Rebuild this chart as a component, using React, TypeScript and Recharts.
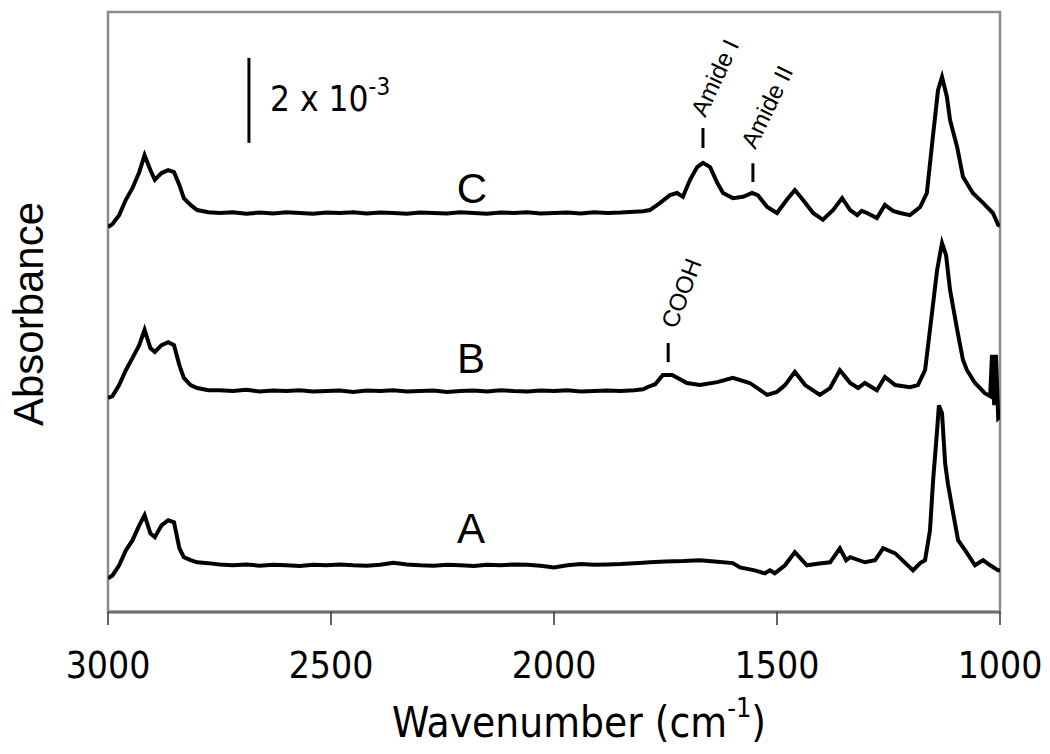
import React from "react";
import {
  LineChart,
  Line,
  XAxis,
  YAxis,
  ReferenceArea,
  ReferenceLine,
  ReferenceDot,
  Label,
} from "recharts";

// FTIR spectra, absorbance in units of 1e-3 above each trace's own baseline
const cWn = [3000,2990,2975,2960,2945,2930,2918,2905,2895,2880, 2865,2852,2840,2830,2815,2800,2775,2750, 2720,2690,2660,2630,2600,2570,2540,2510,2480,2450, 2420,2390,2360,2330,2300,2270,2240,2210,2180,2150, 2120,2090,2060,2030,2000, 1970,1940,1910,1880,1850,1820,1800, 1785,1762,1740,1724,1711,1695,1679,1666,1650,1634, 1621,1599,1576,1556,1543,1522,1500,1478,1460,1442, 1419,1397,1374,1354,1336,1320,1310,1298,1276,1258, 1240,1224,1202,1179,1164,1152,1139,1130,1119,1112, 1096,1083,1061,1038,1016,1004,1000];
const cAbs = [-0.33,-0.26,-0.05,0.31,0.59,0.96,1.36,1.01,0.78,0.94, 1.01,0.96,0.66,0.35,0.19,0.07,0.02,0, 0.02,-0.02,0.01,-0.01,0.02,0,-0.02,0.01,0,0.02, -0.01,0.01,0,-0.02,0.01,0,-0.01,0.02,0,-0.02, 0.01,0,0.02,-0.01,0, 0.01,-0.01,0.02,0,0.01,0.03,0.04, 0.07,0.24,0.42,0.47,0.38,0.78,1.08,1.18,1.08,0.71, 0.47,0.35,0.38,0.47,0.42,0.14,0,0.31,0.54,0.31, 0,-0.16,0.07,0.35,0.07,-0.05,0.05,0,-0.12,0.19, 0.05,0,-0.05,0.14,0.47,1.65,2.89,3.2,2.73,2.19, 1.55,0.85,0.47,0.24,0,-0.28,-0.3];

const bWn = [3000,2990,2975,2960,2945,2930,2918,2905,2895,2880, 2865,2852,2840,2830,2815,2800,2775,2750, 2720,2690,2660,2630,2600,2570,2540,2510,2480,2450, 2420,2390,2360,2330,2300,2270,2240,2210,2180,2150, 2120,2090,2060,2030,2000, 1970,1940,1910,1880,1850,1820,1800, 1791,1773,1756,1735,1702,1673,1634,1599,1561,1522, 1500,1482,1460,1437,1404,1381,1359,1345,1336,1318, 1303,1276,1258,1235,1202,1184,1168,1157,1141,1130, 1121,1112,1096,1083,1074,1056,1034,1022,1018,1013, 1009,1004,1000];
const bAbs = [-0.16,-0.12,0.14,0.49,0.78,1.08,1.44,1.01,0.92,1.08, 1.15,1.08,0.61,0.31,0.14,0.07,0.02,0.02, 0,0.03,-0.01,0.01,0,0.02,-0.01,0,0.01,-0.02, 0.01,0,0.02,-0.01,0,0.01,-0.02,0,0.01,-0.01, 0.02,0,-0.01,0.01,0, 0.02,-0.01,0,0.01,0,0.02,0.04, 0.09,0.16,0.38,0.38,0.19,0.14,0.21,0.31,0.19,-0.09, -0.02,0.14,0.45,0.14,-0.09,0.07,0.49,0.31,0.19,0.07, 0.19,0.02,0.33,0.14,0.09,0.14,0.49,1.44,2.85,3.48, 3.2,2.38,1.44,0.73,0.49,0.19,-0.05,-0.12,0.85,-0.33, 0.85,-0.64,-0.6];

const aWn = [3000,2990,2975,2960,2945,2930,2918,2905,2895,2880, 2865,2852,2840,2830,2815,2800,2775,2750, 2720,2690,2660,2630,2600,2570,2540,2510,2480,2450, 2420,2390,2360,2330,2300,2270,2240,2210,2180,2150, 2120,2090,2060,2030,2000, 1970,1940,1910,1880,1850,1820,1800, 1785,1750,1710,1673,1640,1599,1583,1550,1527,1516, 1505,1482,1460,1433,1405,1381,1359,1345,1336,1303, 1280,1262,1235,1202,1195,1179,1168,1157,1150,1141, 1137,1130,1123,1117,1105,1094,1078,1056,1038,1022, 1004,1000];
const aAbs = [-0.31,-0.24,0,0.35,0.59,0.94,1.18,0.75,0.66,0.94, 1.06,1.01,0.4,0.19,0.12,0.07,0.05,0.02, 0,0.02,-0.01,0.01,0,-0.02,0.01,0,0.02,0, -0.01,0.01,0.06,0.02,0,-0.01,0.01,0,-0.02,0.01, 0,0.02,0.01,-0.01,-0.05, 0,0.03,0.01,0.02,0.03,0.05,0.06, 0.07,0.09,0.1,0.12,0.09,0.05,-0.05,-0.12,-0.19,-0.12, -0.19,0,0.31,0,0.04,0.07,0.4,0.12,0.19,0.07, 0.12,0.4,0.28,-0.05,-0.12,0.05,0.12,0.82,2.0,3.18, 3.76,3.58,2.4,1.93,1.22,0.59,0.35,0,0.12,0, -0.12,-0.12];

const xTicks = [3000, 2500, 2000, 1500, 1000];

// vertical offsets of the stacked traces (1e-3 units)
const OFFSET_A = 1.1;
const OFFSET_B = 5.2;
const OFFSET_C = 9.39;
const Y_MAX = 14.12;

const FONT_V = '"DejaVu Sans Condensed", "DejaVu Sans", Verdana, sans-serif';
const FONT_A = '"Liberation Sans", Arial, sans-serif';

const build = (wn: number[], vals: number[], offset: number) =>
  wn.map((w, i) => ({ wn: w, y: vals[i] + offset }));

const dataA = build(aWn, aAbs, OFFSET_A);
const dataB = build(bWn, bAbs, OFFSET_B);
const dataC = build(cWn, cAbs, OFFSET_C);

const WnTick = (props: any) => {
  const { x, y, payload } = props;
  return (
    <text x={x} y={y + 53} textAnchor="middle" fontFamily={FONT_V} fontSize={37} fill="#000">
      {payload.value}
    </text>
  );
};

const TextAt = (props: any) => {
  const { viewBox, txt, size = 42, rot = 0, anchor = "middle", font = FONT_A, shiftY = 0 } = props;
  if (!viewBox) return null;
  const { x, y } = viewBox;
  return (
    <g transform={`translate(${x},${y}) rotate(${rot})`}>
      <text x={0} y={shiftY} textAnchor={anchor} fontFamily={font} fontSize={size} fill="#000">
        {txt}
      </text>
    </g>
  );
};

const ScaleText = (props: any) => {
  const { viewBox } = props;
  if (!viewBox) return null;
  return (
    <text x={viewBox.x} y={viewBox.y} fontFamily={FONT_V} fontSize={35} fill="#000">
      2 x 10
      <tspan fontSize={24} dy={-16}>-3</tspan>
    </text>
  );
};

const XTitle = (props: any) => {
  const { viewBox } = props;
  if (!viewBox) return null;
  const cx = viewBox.x + viewBox.width / 2 + 25;
  return (
    <text x={cx} y={737} textAnchor="middle" fontFamily={FONT_V} fontSize={42} fill="#000">
      Wavenumber (cm
      <tspan fontSize={27} dy={-20}>-1</tspan>
      <tspan dy={20}>)</tspan>
    </text>
  );
};

const YTitle = (props: any) => {
  const { viewBox } = props;
  if (!viewBox) return null;
  return (
    <g transform={`translate(${viewBox.x - 65},${viewBox.y + 2}) rotate(-90)`}>
      <text x={0} y={0} textAnchor="middle" fontFamily={FONT_A} fontSize={42} fill="#000">
        Absorbance
      </text>
    </g>
  );
};

export default function App() {
  return (
    <div style={{ position: "absolute", left: 0, top: 0, width: 1050, height: 754, background: "#fff" }}>
      <LineChart width={1050} height={754} margin={{ top: 12, right: 50, bottom: 42, left: 108 }}>
        <XAxis
          dataKey="wn"
          type="number"
          domain={[1000, 3000]}
          reversed
          ticks={xTicks}
          allowDataOverflow
          height={100}
          tickSize={13}
          tickMargin={0}
          tick={<WnTick />}
          axisLine={{ stroke: "#6e6e6e", strokeWidth: 3 }}
          tickLine={{ stroke: "#333", strokeWidth: 1.5 }}
        >
          <Label content={<XTitle />} />
        </XAxis>
        <YAxis
          type="number"
          domain={[0, Y_MAX]}
          allowDataOverflow
          hide
        />
        <ReferenceArea
          x1={3000}
          x2={1000}
          y1={0}
          y2={Y_MAX}
          fill="none"
          stroke="#8c8c8c"
          strokeWidth={2.5}
          ifOverflow="visible"
        />
        <ReferenceDot x={3000} y={Y_MAX / 2} r={0} fill="none" stroke="none" label={<YTitle />} />
        {/* scale bar */}
        <ReferenceLine
          segment={[{ x: 2684, y: 11.04 }, { x: 2684, y: 13.04 }]}
          stroke="#000"
          strokeWidth={3}
        />
        <ReferenceDot x={2637} y={11.79} r={0} fill="none" stroke="none" label={<ScaleText />} />
        {/* peak markers */}
        <ReferenceLine segment={[{ x: 1666, y: 10.92 }, { x: 1666, y: 11.39 }]} stroke="#000" strokeWidth={3} />
        <ReferenceLine segment={[{ x: 1554, y: 10.12 }, { x: 1554, y: 10.56 }]} stroke="#000" strokeWidth={3} />
        <ReferenceLine segment={[{ x: 1744, y: 5.88 }, { x: 1744, y: 6.33 }]} stroke="#000" strokeWidth={3} />
        <ReferenceDot x={1661} y={11.62} r={0} fill="none" stroke="none"
          label={<TextAt txt="Amide I" size={24} rot={-65} anchor="start" />} />
        <ReferenceDot x={1549} y={10.87} r={0} fill="none" stroke="none"
          label={<TextAt txt="Amide II" size={24} rot={-64} anchor="start" />} />
        <ReferenceDot x={1726} y={6.64} r={0} fill="none" stroke="none"
          label={<TextAt txt="COOH" size={24} rot={-69} anchor="start" />} />
        {/* trace letters */}
        <ReferenceDot x={2184} y={9.98} r={0} fill="none" stroke="none" label={<TextAt txt="C" shiftY={15} />} />
        <ReferenceDot x={2186} y={5.98} r={0} fill="none" stroke="none" label={<TextAt txt="B" shiftY={15} />} />
        <ReferenceDot x={2186} y={1.98} r={0} fill="none" stroke="none" label={<TextAt txt="A" shiftY={15} />} />

        <Line data={dataA} dataKey="y" type="linear" stroke="#000" strokeWidth={4} dot={false} isAnimationActive={false} />
        <Line data={dataB} dataKey="y" type="linear" stroke="#000" strokeWidth={4} dot={false} isAnimationActive={false} />
        <Line data={dataC} dataKey="y" type="linear" stroke="#000" strokeWidth={4} dot={false} isAnimationActive={false} />
      </LineChart>
    </div>
  );
}
